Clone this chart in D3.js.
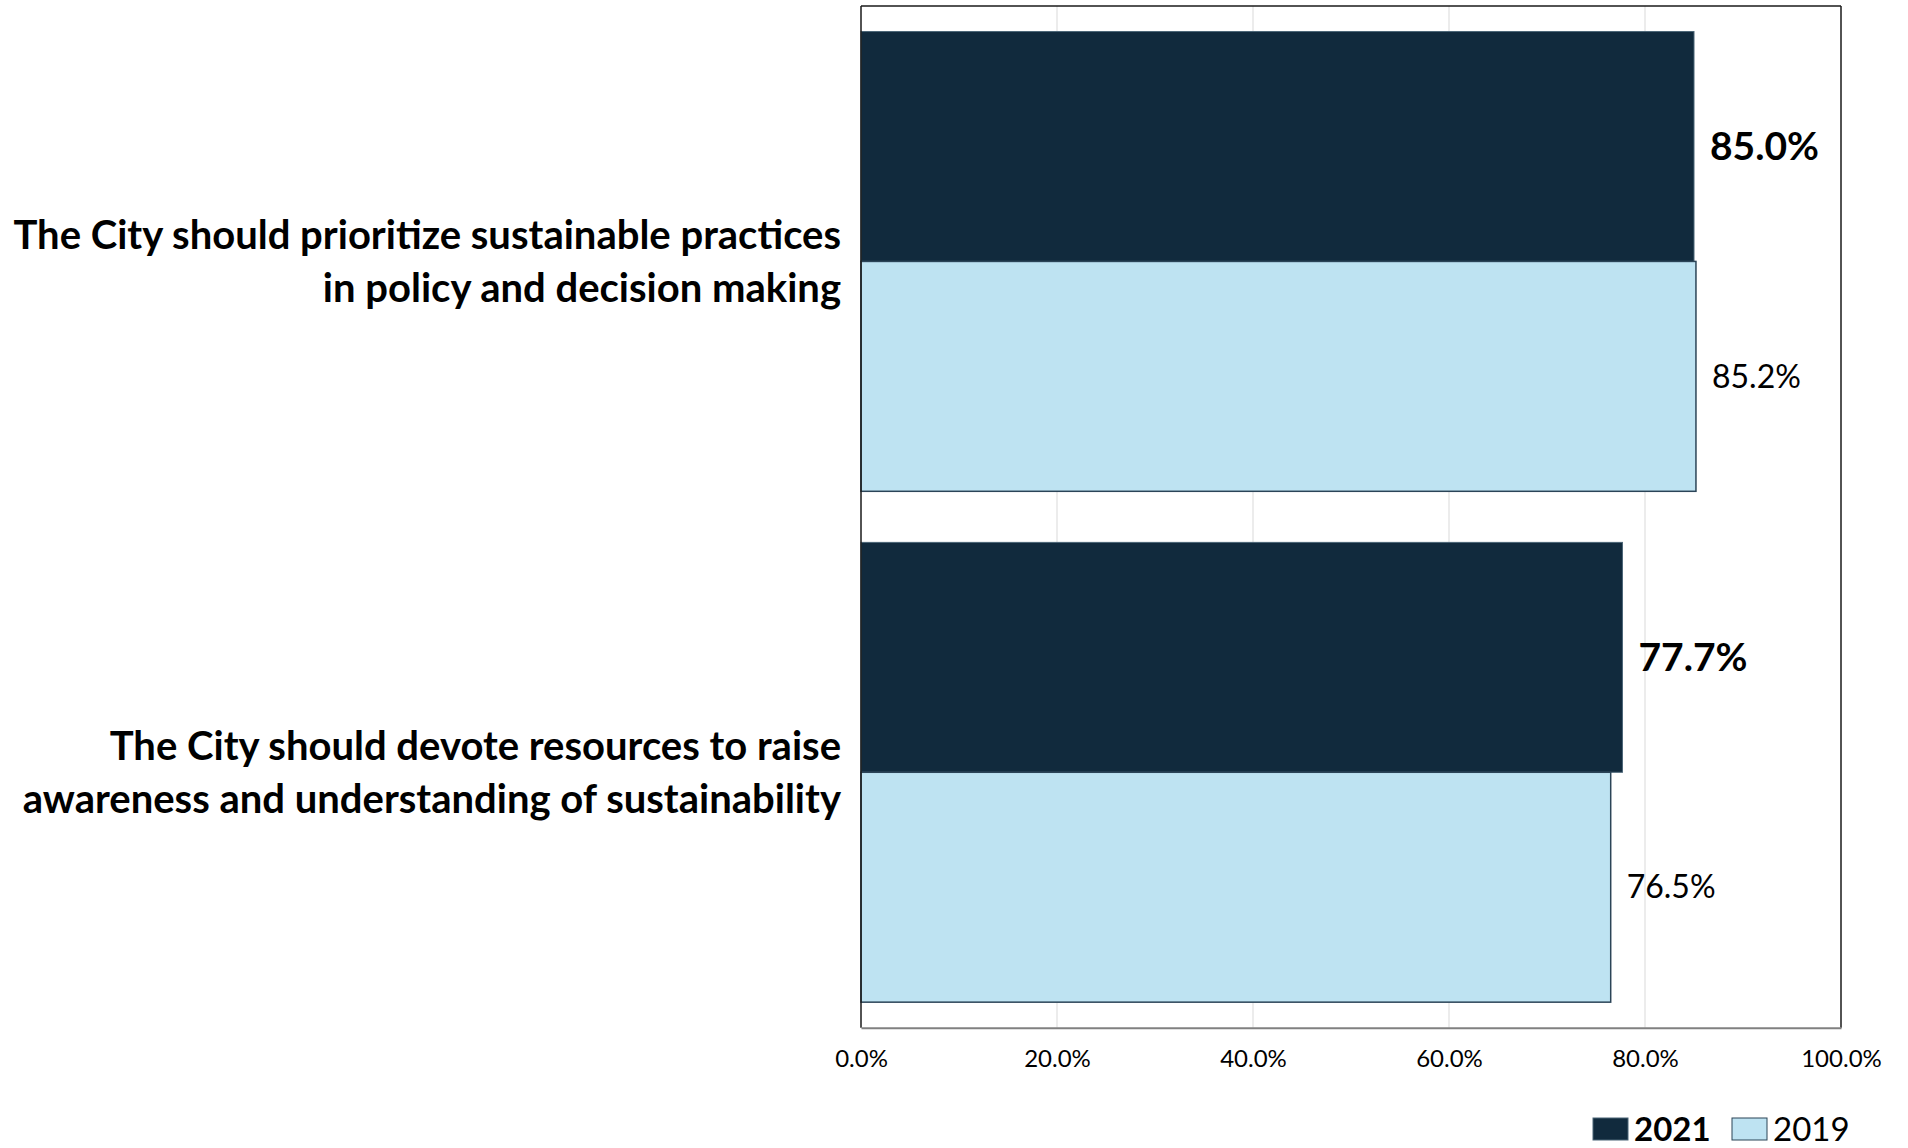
<!DOCTYPE html>
<html>
<head>
<meta charset="utf-8">
<script src="https://cdn.jsdelivr.net/npm/d3@7"></script>
<style>
  html, body { margin: 0; padding: 0; background: #fff; }
  svg { display: block; font-family: Lato, "Open Sans", sans-serif; }
</style>
</head>
<body>
<svg id="chart" width="1908" height="1148"></svg>
<script>
// ---- data ----
const categories = [
  ["The City should prioritize sustainable practices", "in policy and decision making"],
  ["The City should devote resources to raise", "awareness and understanding of sustainability"]
];
const seriesNames = ["2021", "2019"];
const values2021 = [85.0, 77.7];
const values2019 = [85.2, 76.5];
const tickValues = [0, 20, 40, 60, 80, 100];

// ---- layout ----
const W = 1908, H = 1148;
const margin = { left: 861, top: 6, right: 67, bottom: 120 };
const pw = W - margin.left - margin.right;   // 980
const ph = 1027.7 - margin.top;
const colors = { "2021": "#112a3d", "2019": "#bee3f2" };
const strokes = { "2021": "#4b6577", "2019": "#2b4457" };

const svg = d3.select("#chart");
const g = svg.append("g").attr("transform", `translate(${margin.left},${margin.top})`);

const x = d3.scaleLinear().domain([0, 100]).range([0, pw]);
const y = d3.scaleBand().domain(d3.range(categories.length)).range([0, ph])
  .paddingInner(0.1).paddingOuter(0.05);
const ySub = d3.scaleBand().domain(seriesNames).range([0, y.bandwidth()]);

// gridlines
g.append("g").selectAll("line").data(tickValues.filter(t => t > 0 && t < 100)).join("line")
  .attr("x1", d => x(d)).attr("x2", d => x(d))
  .attr("y1", 0).attr("y2", ph)
  .attr("stroke", "#d9d9d9").attr("stroke-width", 1);

// bars
const rows = categories.map((c, i) => ({ i, vals: [
  { s: "2021", v: values2021[i] }, { s: "2019", v: values2019[i] }
]}));
const grp = g.selectAll("g.cat").data(rows).join("g")
  .attr("class", "cat")
  .attr("transform", d => `translate(0,${y(d.i)})`);

grp.selectAll("rect").data(d => d.vals).join("rect")
  .attr("x", x(0))
  .attr("y", d => ySub(d.s))
  .attr("width", d => x(d.v) - x(0))
  .attr("height", ySub.bandwidth())
  .attr("fill", d => colors[d.s])
  .attr("stroke", d => strokes[d.s])
  .attr("stroke-width", d => d.s === "2021" ? 1 : 1.5);

// value labels
grp.selectAll("text.val").data(d => d.vals).join("text")
  .attr("class", "val")
  .attr("x", d => x(d.v) + 16)
  .attr("y", d => ySub(d.s) + ySub.bandwidth() / 2)
  .attr("dy", "0.35em")
  .attr("font-size", d => d.s === "2021" ? 39 : 32)
  .attr("font-weight", d => d.s === "2021" ? 700 : 400)
  .attr("fill", "#000")
  .text(d => d3.format(".1f")(d.v) + "%");

// plot border
g.append("line").attr("x1", 0).attr("x2", 0).attr("y1", 0).attr("y2", ph)
  .attr("stroke", "#1a1a1a").attr("stroke-width", 1.5);
g.append("line").attr("x1", 0).attr("x2", pw).attr("y1", 0).attr("y2", 0)
  .attr("stroke", "#1a1a1a").attr("stroke-width", 1.5);
g.append("line").attr("x1", pw).attr("x2", pw).attr("y1", 0).attr("y2", ph)
  .attr("stroke", "#1a1a1a").attr("stroke-width", 1.5);

// x axis
const xAxis = d3.axisBottom(x).tickValues(tickValues)
  .tickFormat(d => d3.format(".1f")(d) + "%").tickSize(0).tickPadding(22);
const ax = g.append("g").attr("transform", `translate(0,${ph})`).call(xAxis);
ax.select(".domain").attr("stroke", "#808080").attr("stroke-width", 2);
ax.selectAll("text").attr("font-size", 24).attr("fill", "#000")
  .attr("font-family", "Lato, 'Open Sans', sans-serif");

// category labels
const catG = g.append("g");
categories.forEach((lines, i) => {
  const cy = y(i) + y.bandwidth() / 2;
  const lh = 53.5;
  const t = catG.append("text")
    .attr("text-anchor", "end")
    .attr("font-size", 40)
    .attr("font-weight", 700)
    .attr("fill", "#000");
  lines.forEach((ln, k) => {
    t.append("tspan")
      .attr("x", -20)
      .attr("y", cy + (k - (lines.length - 1) / 2) * lh)
      .attr("dy", "0.35em")
      .text(ln);
  });
});

// legend
const legend = svg.append("g").attr("transform", "translate(1593,1118)");
const legX = [0, 139];
seriesNames.forEach((s, k) => {
  const lg = legend.append("g").attr("transform", `translate(${legX[k]},0)`);
  lg.append("rect").attr("width", 35).attr("height", 22)
    .attr("fill", colors[s]).attr("stroke", strokes[s]).attr("stroke-width", 1);
  lg.append("text").attr("x", 41).attr("y", 11).attr("dy", "0.35em")
    .attr("font-size", 33).attr("font-weight", k === 0 ? 700 : 400)
    .attr("fill", "#000").text(s);
});
</script>
</body>
</html>
